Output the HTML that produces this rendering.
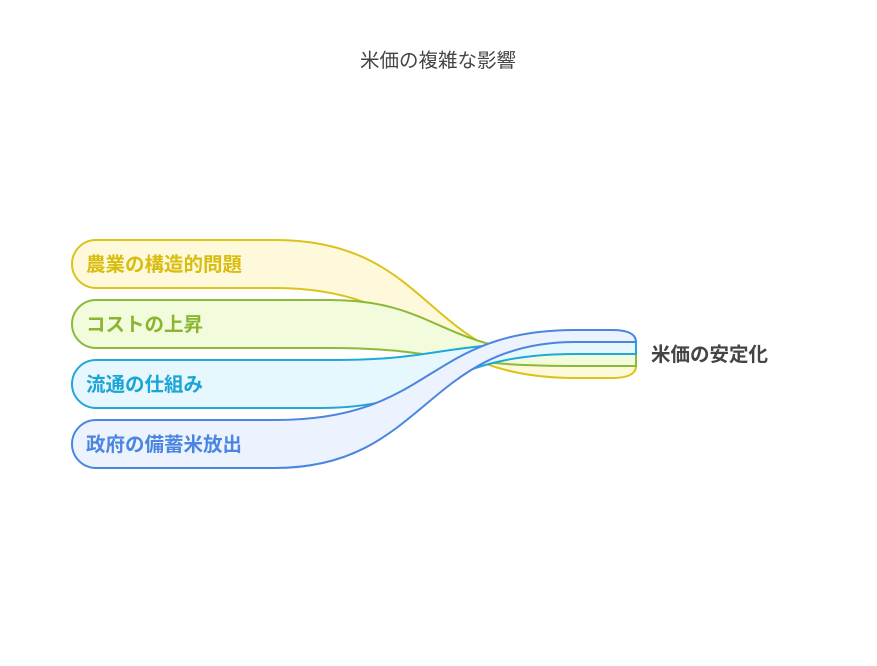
<!DOCTYPE html>
<html><head><meta charset="utf-8"><style>
body{margin:0;background:#fff;width:877px;height:661px;overflow:hidden;font-family:"Liberation Sans","Noto Sans CJK JP",sans-serif}
</style></head><body>
<svg width="877" height="661" viewBox="0 0 877 661" xmlns="http://www.w3.org/2000/svg" font-family="Liberation Sans, Noto Sans CJK JP, sans-serif">
<text x="438" y="67" text-anchor="middle" font-size="19.5" fill="#444">米価の複雑な影響</text>
<g stroke-width="2">
<path d="M96 240 H275 C435 240 425 366 575 366 H636 Q636 378 612 378 H575 C425 378 425 288 275 288 H96 A24 24 0 0 1 96 240 Z" fill="#fff9db" stroke="#dcc31a"/>
<path d="M96 300 H330 C440 300 440 354 575 354 H636 V366 H575 C440 366 440 348 330 348 H96 A24 24 0 0 1 96 300 Z" fill="#f2fcdc" stroke="#8cb93a"/>
<path d="M96 360 H335 C440 360 440 342 575 342 H636 V354 H575 C440 354 440 408 320 408 H96 A24 24 0 0 1 96 360 Z" fill="#e6f7fd" stroke="#1fa8d8"/>
<path d="M96 420 H275 C435 420 425 330 575 330 H612 Q636 330 636 342 H575 C425 342 425 468 275 468 H96 A24 24 0 0 1 96 420 Z" fill="#ecf2fe" stroke="#4a86e0"/>
</g>
<g font-size="19.5" font-weight="bold">
<text x="86" y="271" fill="#d9bd0e">農業の構造的問題</text>
<text x="86" y="331" fill="#8ab52e">コストの上昇</text>
<text x="86" y="391" fill="#1aa5d6">流通の仕組み</text>
<text x="86" y="451" fill="#4a86e0">政府の備蓄米放出</text>
<text x="651" y="361" fill="#444">米価の安定化</text>
</g>
</svg>
</body></html>
